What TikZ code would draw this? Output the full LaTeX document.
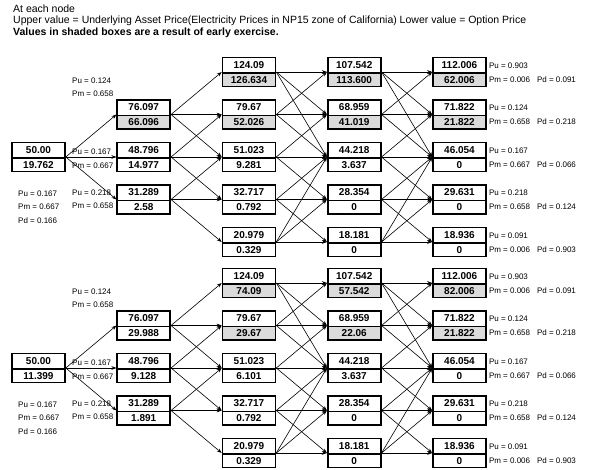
\documentclass[tikz,border=0pt]{standalone}
\usepackage{fontspec}
\setmainfont{Liberation Sans}
\usetikzlibrary{positioning, arrows.meta, calc, shapes.multipart}

\begin{document}
\begin{tikzpicture}[
    x=1pt, y=-1pt,
    >=Stealth,
    box/.style={
        rectangle split, rectangle split parts=2, draw, line width=1.6pt,
        text width=47pt, align=center, inner xsep=3pt, inner ysep=2.3pt,
        text height=7.3pt, text depth=1.9pt, font=\fontsize{10}{11}\selectfont\bfseries
    },
    sbox/.style={box, rectangle split part fill={white, gray!28}},
    arrow/.style={-{Stealth[length=5pt, width=3.6pt]}, line width=0.6pt},
    head/.style={anchor=west, inner sep=0pt, font=\fontsize{10.5}{12}\selectfont},
    prob/.style={anchor=west, inner sep=0pt, font=\fontsize{8}{9}\selectfont},
]
\useasboundingbox (0,0) rectangle (589,470);

% ── Header ────────────────────────────────────────────────────────────────
\node[head] (line1) at (13,9) {At each node};
\node[head] (line2) at (13,21)
    {Upper value = Underlying Asset Price(Electricity Prices in NP15 zone of California) Lower value = Option Price};
\node[head, font=\fontsize{10.5}{12}\selectfont\bfseries] (line3) at (13,33)
    {Values in shaded boxes are a result of early exercise.};

% ── Upper tree ────────────────────────────────────────────────────────────
\foreach \c/\r/\st/\up/\lo in {
    0/3/box/50.00/19.762,
    1/2/sbox/76.097/66.096, 1/3/box/48.796/14.977, 1/4/box/31.289/2.58,
    2/1/sbox/124.09/126.634, 2/2/sbox/79.67/52.026, 2/3/box/51.023/9.281,
    2/4/box/32.717/0.792, 2/5/box/20.979/0.329,
    3/1/sbox/107.542/113.600, 3/2/sbox/68.959/41.019, 3/3/box/44.218/3.637,
    3/4/box/28.354/0, 3/5/box/18.181/0,
    4/1/sbox/112.006/62.006, 4/2/sbox/71.822/21.822, 4/3/box/46.054/0,
    4/4/box/29.631/0, 4/5/box/18.936/0}
    \node[\st] (top_\c_\r) at ({38.5+105.25*\c}, {157+42.5*(\r-3)}) {\up \nodepart{two} \lo};

% ── Lower tree ────────────────────────────────────────────────────────────
\foreach \c/\r/\st/\up/\lo in {
    0/3/box/50.00/11.399,
    1/2/box/76.097/29.988, 1/3/box/48.796/9.128, 1/4/box/31.289/1.891,
    2/1/sbox/124.09/74.09, 2/2/sbox/79.67/29.67, 2/3/box/51.023/6.101,
    2/4/box/32.717/0.792, 2/5/box/20.979/0.329,
    3/1/sbox/107.542/57.542, 3/2/sbox/68.959/22.06, 3/3/box/44.218/3.637,
    3/4/box/28.354/0, 3/5/box/18.181/0,
    4/1/sbox/112.006/82.006, 4/2/sbox/71.822/21.822, 4/3/box/46.054/0,
    4/4/box/29.631/0, 4/5/box/18.936/0}
    \node[\st] (bot_\c_\r) at ({38.5+105.25*\c}, {368+42.5*(\r-3)}) {\up \nodepart{two} \lo};

% ── Arrows and probabilities (same for both trees) ────────────────────────
\foreach \T/\dy in {top/0, bot/211} {
    \foreach \t in {2,3,4}
        \draw[arrow] (\T_0_3.east) -- (\T_1_\t.west);
    \foreach \r/\a/\b/\d in {2/1/2/3, 3/2/3/4, 4/3/4/5}
        \foreach \t in {\a,\b,\d}
            \draw[arrow] (\T_1_\r.east) -- (\T_2_\t.west);
    \foreach \c/\n in {2/3, 3/4}
        \foreach \r/\a/\b/\d in {1/1/2/3, 2/1/2/3, 3/2/3/4, 4/3/4/5, 5/3/4/5}
            \foreach \t in {\a,\b,\d}
                \draw[arrow] (\T_\c_\r.east) -- (\T_\n_\t.west);

    % first step
    \node[prob] (\T_pu0) at (18,194+\dy) {Pu = 0.167};
    \node[prob] (\T_pm0) at (18,207+\dy) {Pm = 0.667};
    \node[prob] (\T_pd0) at (18,221+\dy) {Pd = 0.166};
    % second step
    \node[prob] (\T_pu2) at (72,81+\dy)  {Pu = 0.124};
    \node[prob] (\T_pm2) at (72,94+\dy)  {Pm = 0.658};
    \node[prob] (\T_pu3) at (72,152+\dy) {Pu = 0.167};
    \node[prob] (\T_pm3) at (72,166+\dy) {Pm = 0.667};
    \node[prob] (\T_pu4) at (72,193+\dy) {Pu = 0.218};
    \node[prob] (\T_pm4) at (72,206+\dy) {Pm = 0.658};
    % last column
    \foreach \r/\pu/\pm/\pd in {1/0.903/0.006/0.091, 2/0.124/0.658/0.218,
            3/0.167/0.667/0.066, 4/0.218/0.658/0.124, 5/0.091/0.006/0.903} {
        \node[prob] (\T_lu\r) at ($(\T_4_\r.east)+(2,-6.5)$) {Pu = \pu};
        \node[prob] (\T_lm\r) at ($(\T_4_\r.east)+(2,7.5)$)  {Pm = \pm};
        \node[prob] (\T_ld\r) at ($(\T_4_\r.east)+(50,7.5)$) {Pd = \pd};
    }
}

\end{tikzpicture}
\end{document}
